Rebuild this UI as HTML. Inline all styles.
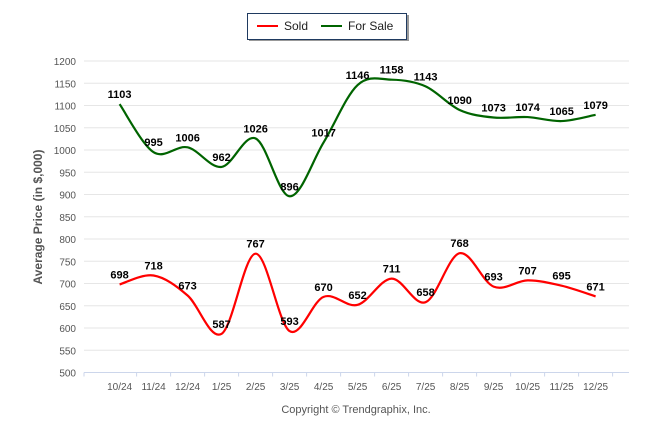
<!DOCTYPE html>
<html><head><meta charset="utf-8"><style>
body{margin:0;background:#fff;width:646px;height:434px;overflow:hidden;font-family:"Liberation Sans",sans-serif}
</style></head><body>
<svg id="c" width="646" height="434"></svg>
<script>
const categories=["10/24","11/24","12/24","1/25","2/25","3/25","4/25","5/25","6/25","7/25","8/25","9/25","10/25","11/25","12/25"];
const soldValues=[698,718,673,587,767,593,670,652,711,658,768,693,707,695,671];
const forSaleValues=[1103,995,1006,962,1026,896,1017,1146,1158,1143,1090,1073,1074,1065,1079];
const yTicks=[500,550,600,650,700,750,800,850,900,950,1000,1050,1100,1150,1200];
const NS="http://www.w3.org/2000/svg";
const svg=document.getElementById('c');
function el(t,a,txt){const e=document.createElementNS(NS,t);for(const k in a)e.setAttribute(k,a[k]);if(txt!==undefined)e.textContent=txt;svg.appendChild(e);return e;}
const X0=84,X1=629,Y0=372.5,Y1=61;
function xs(i){return 119.6+i*34;}
function ys(v){return Y0-(v-500)/700*(Y0-Y1);}
yTicks.forEach(v=>{
 const g=el('line',{x1:X0,x2:X1,y1:ys(v),y2:ys(v),stroke:'#e6e6e6','stroke-width':1});
 
 
 const t=el('text',{x:76,y:ys(v)+4,'text-anchor':'end','font-size':10,fill:'#555'},v);
 
 
});
const ax=el('line',{x1:X0,x2:X1,y1:Y0,y2:Y0,stroke:'#ccd6eb'});


categories.forEach((c,i)=>{
 const tk=el('line',{x1:xs(i)+17,x2:xs(i)+17,y1:Y0,y2:Y0+4,stroke:'#ccd6eb'});
 
 
 const t=el('text',{x:xs(i),y:390,'text-anchor':'middle','font-size':10,fill:'#555'},c);
 
 
});
const tk0=el('line',{x1:X0,x2:X0,y1:Y0,y2:Y0+4,stroke:'#ccd6eb'});


function path(vals){
 const p=vals.map((v,i)=>[xs(i),ys(v)]);
 let d='M'+p[0][0]+','+p[0][1];
 for(let i=0;i<p.length-1;i++){
  const a=p[i-1]||p[i],b=p[i],c=p[i+1],e=p[i+2]||c;
  const t=1/6;
  d+=` C${b[0]+(c[0]-a[0])*t},${b[1]+(c[1]-a[1])*t} ${c[0]-(e[0]-b[0])*t},${c[1]-(e[1]-b[1])*t} ${c[0]},${c[1]}`;
 }
 return d;
}
function series(vals,color,name){
 const p=el('path',{d:path(vals),fill:'none',stroke:color,'stroke-width':2.2});
 
 
 vals.forEach((v,i)=>{
  const t=el('text',{x:xs(i),y:ys(v)-6,'text-anchor':'middle','font-size':11,'font-weight':'bold',fill:'#000'},v);
  
  
 });
}
series(forSaleValues,'#006400','for-sale');
series(soldValues,'#ff0000','sold');
const yt=el('text',{x:0,y:0,transform:'translate(42,217) rotate(-90)','text-anchor':'middle','font-size':12,'font-weight':'bold',fill:'#555'},'Average Price (in $,000)');


const cp=el('text',{x:356,y:413,'text-anchor':'middle','font-size':11,fill:'#555'},'Copyright © Trendgraphix, Inc.');


const sh=el('rect',{x:249,y:15,width:160,height:26,fill:'#999'});


const lb=el('rect',{x:247.5,y:13.5,width:159,height:26,fill:'#fff',stroke:'#1f3a60'});


const l1=el('line',{x1:257,x2:278,y1:26,y2:26,stroke:'#ff0000','stroke-width':2});


const t1=el('text',{x:284,y:30,'font-size':12,fill:'#222'},'Sold');


const l2=el('line',{x1:321,x2:342,y1:26,y2:26,stroke:'#006400','stroke-width':2});


const t2=el('text',{x:348,y:30,'font-size':12,fill:'#222'},'For Sale');


</script>
</body></html>
